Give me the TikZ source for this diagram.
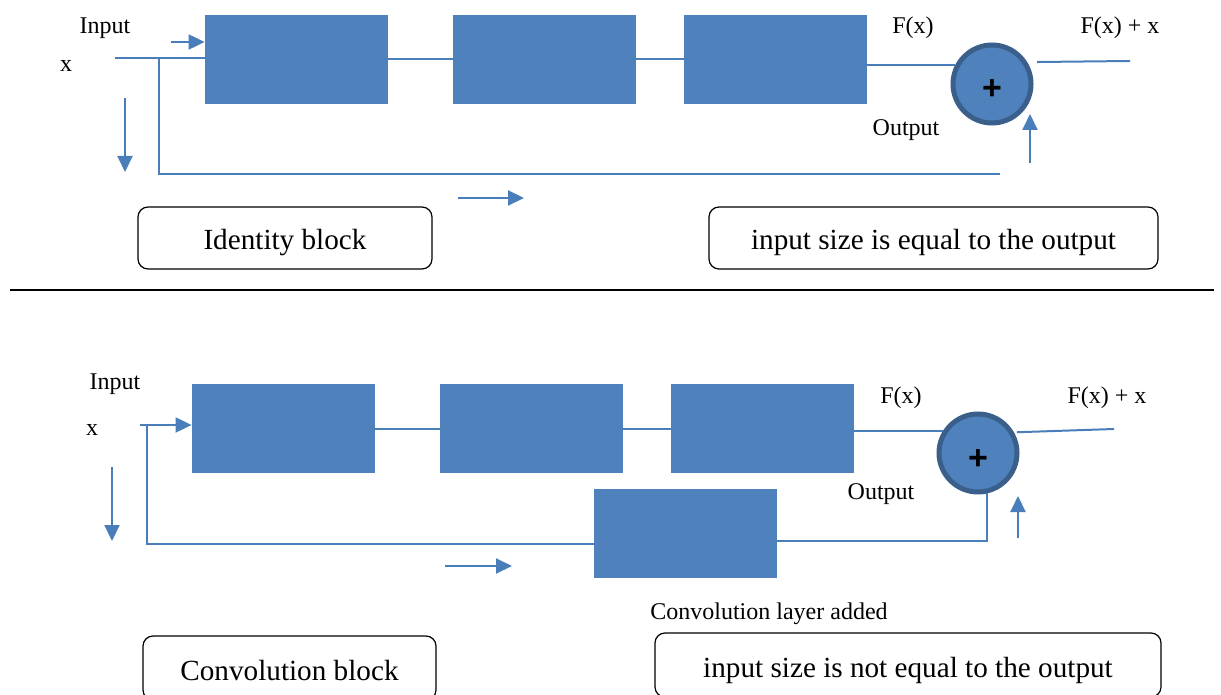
\documentclass[tikz,border=0pt]{standalone}
\usepackage{fontspec}
\setmainfont{Liberation Serif}
\newfontfamily\plusfont{Liberation Sans}
\usetikzlibrary{arrows.meta}
\definecolor{blockblue}{HTML}{4F81BD}
\definecolor{ringblue}{HTML}{3A5F8B}
\definecolor{lineblue}{HTML}{4A7EBB}

\begin{document}
\begin{tikzpicture}[x=0.5pt, y=-0.5pt,
    layer/.style={fill=blockblue, minimum width=91.5pt, minimum height=44.5pt, inner sep=0},
    sumnode/.style={circle, fill=blockblue, draw=ringblue, line width=2.5pt, minimum size=39pt, inner sep=0, text height=16pt, text depth=0pt, font=\plusfont\bfseries\fontsize{17}{17}\selectfont},
    conn/.style={draw=lineblue, line width=1pt},
    arr/.style={conn, -{Triangle[length=8pt, width=7.5pt]}},
    note/.style={draw, rounded corners=5pt, line width=0.6pt, text height=12pt, text depth=0pt, font=\fontsize{14.6}{17}\selectfont},
    lbl/.style={font=\fontsize{12}{14}\selectfont, inner sep=0, text height=9pt, text depth=3pt}]
    \useasboundingbox (0,0) rectangle (1221,695);
    \clip (0,0) rectangle (1221,695);

    % identity block
    \foreach \n/\x in {1/296.5, 2/544.5, 3/775.5} \node[layer] (a\n) at (\x,59.5) {};
    \node[sumnode] (s1) at (992,84) {+};
    \coordinate (in1) at (115,58);
    \coordinate (sk1) at (159,58);
    \coordinate (sk2) at (1000,174);
    \coordinate (out1) at (1130,61);
    \draw[conn] (in1) -- (a1.west |- in1);
    \draw[conn] (a1) -- (a2);
    \draw[conn] (a2) -- (a3);
    \draw[conn] (a3.east |- s1.153) -- (s1.153);
    \draw[conn] ([xshift=5pt]s1.32) -- (out1);
    \draw[conn] (sk1) |- (sk2);
    \coordinate (h1) at (171,42);
    \coordinate (d1) at (125,98);
    \coordinate (r1) at (458,198);
    \coordinate (u1) at (1030,163);
    \draw[arr] (h1) -- (a1.west |- h1);
    \draw[arr] (d1) -- ++(0,74);
    \draw[arr] (r1) -- ++(66,0);
    \draw[arr] (u1) -- ++(0,-49);
    \node[lbl] (inp1) at (105,28) {Input};
    \node[lbl] (x1) at (66,66) {x};
    \node[lbl] (f1) at (913,28) {F(x)};
    \node[lbl] (fx1) at (1120,28) {F(x) + x};
    \node[lbl] (o1) at (906,130) {Output};
    \node[note, minimum width=147pt, minimum height=31pt] (id) at (285,238) {Identity block};
    \node[note, minimum width=224.5pt, minimum height=31pt] (eq) at (933.5,238) {input size is equal to the output};

    \coordinate (sep1) at (10,290);
    \coordinate (sep2) at (1214,290);
    \draw[line width=1pt] (sep1) -- (sep2);

    % convolution block
    \foreach \n/\x in {1/283.5, 2/531.5, 3/762.5} \node[layer] (b\n) at (\x,428.5) {};
    \node[layer] (b4) at (685.5,533.5) {};
    \node[sumnode] (s2) at (978,453) {+};
    \coordinate (in2) at (140,425);
    \coordinate (sk3) at (147,425);
    \coordinate (sk4) at (594,544);
    \coordinate (cb) at (987,541);
    \coordinate (out2) at (1114,429);
    \draw[arr] (in2) -- (b1.west |- in2);
    \draw[conn] (b1) -- (b2);
    \draw[conn] (b2) -- (b3);
    \draw[conn] (b3.east |- s2.148) -- (s2.148);
    \draw[conn] ([xshift=1.5pt]s2.30) -- (out2);
    \draw[conn] (sk3) |- (b4.west |- sk4);
    \draw[conn] (b4.east |- cb) -| (s2.283);
    \coordinate (d2) at (112,467);
    \coordinate (r2) at (445,566);
    \coordinate (u2) at (1018,538);
    \draw[arr] (d2) -- ++(0,74);
    \draw[arr] (r2) -- ++(67,0);
    \draw[arr] (u2) -- ++(0,-42);
    \node[lbl] (inp2) at (115,383) {Input};
    \node[lbl] (x2) at (92,429) {x};
    \node[lbl] (f2) at (901,397) {F(x)};
    \node[lbl] (fx2) at (1107,397) {F(x) + x};
    \node[lbl] (o2) at (881,493) {Output};
    \node[lbl] (cl) at (769,613) {Convolution layer added};
    \node[note, minimum width=146.5pt, minimum height=32pt] (cv) at (289.5,668) {Convolution block};
    \node[note, minimum width=253pt, minimum height=32pt] (neq) at (908,665) {input size is not equal to the output};
\end{tikzpicture}
\end{document}
